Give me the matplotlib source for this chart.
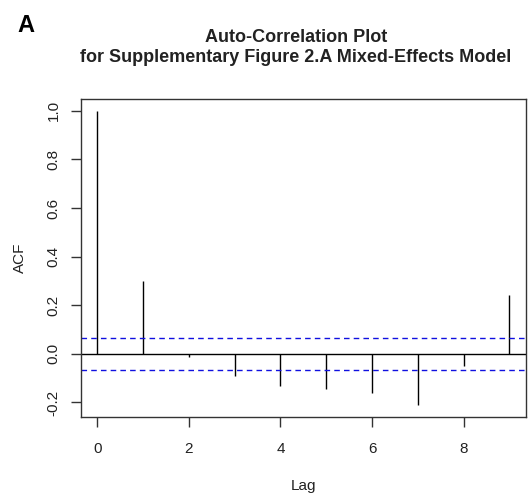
import numpy as np
import matplotlib
matplotlib.use("Agg")
import matplotlib.pyplot as plt

plt.rcParams['font.family'] = ['Liberation Sans', 'DejaVu Sans']

# Autocorrelation estimates by lag
lags = [0, 1, 2, 3, 4, 5, 6, 7, 8, 9]
acf_values = [1.0, 0.301, -0.013, -0.093, -0.134, -0.145, -0.162, -0.21, -0.049, 0.243]
conf_bound = 0.067

x_ticks = [0, 2, 4, 6, 8]
y_ticks = [-0.2, 0.0, 0.2, 0.4, 0.6, 0.8, 1.0]

fig = plt.figure(figsize=(5.29, 4.93), dpi=100)
ax = fig.add_axes([0.1526, 0.1548, 0.8417, 0.6444])

ax.vlines(lags, 0, acf_values, colors='black', linewidth=1.0)
ax.axhline(0, color='black', linewidth=1.0)
ax.axhline(conf_bound, color='#1010e0', linestyle=(0, (4, 3)), linewidth=1.0)
ax.axhline(-conf_bound, color='#1010e0', linestyle=(0, (4, 3)), linewidth=1.0)

span_x = max(lags) - min(lags)
ax.set_xlim(min(lags) - 0.04 * span_x, max(lags) + 0.04 * span_x)
ymin, ymax = min(acf_values), max(acf_values)
span_y = ymax - ymin
ax.set_ylim(ymin - 0.04 * span_y, ymax + 0.04 * span_y)

ax.set_xticks(x_ticks)
ax.set_xticklabels([str(t) for t in x_ticks])
ax.set_yticks(y_ticks)
ax.set_yticklabels([f"{t:.1f}" for t in y_ticks], rotation=90, va='center')

for s in ax.spines.values():
    s.set_color('#333333')
    s.set_linewidth(1.0)
ax.tick_params(direction='out', length=7, width=1.0, color='#333333',
               labelsize=11, labelcolor='#222222')
ax.tick_params(axis='x', pad=11)
ax.tick_params(axis='y', pad=7.5)

ax.set_xlabel('Lag', fontsize=11, color='#222222', labelpad=16.5)
ax.set_ylabel('ACF', fontsize=11, color='#222222', labelpad=14)

fig.text(296 / 529, 1 - 37 / 493, 'Auto-Correlation Plot', ha='center', va='center',
         fontsize=13, fontweight='bold', color='#222222')
fig.text(296 / 529, 1 - 58 / 493, 'for Supplementary Figure 2.A Mixed-Effects Model',
         ha='center', va='center', fontsize=13, fontweight='bold', color='#222222')
fig.text(26 / 529, 1 - 25 / 493, 'A', ha='center', va='center',
         fontsize=17, fontweight='bold', color='black')

fig.savefig('out.png', dpi=100)
